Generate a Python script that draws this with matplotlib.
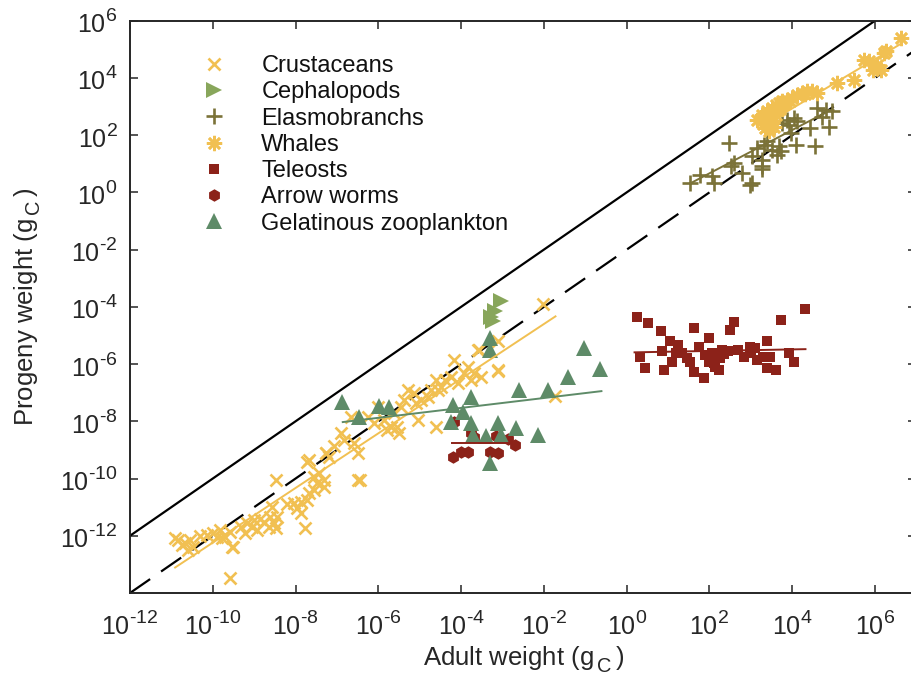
import numpy as np
import matplotlib
matplotlib.use("Agg")
import matplotlib.pyplot as plt
import matplotlib._mathtext as _mt
from matplotlib.ticker import FixedLocator, FuncFormatter, NullLocator

plt.rcParams['font.family'] = ['Liberation Sans', 'DejaVu Sans']
plt.rcParams['mathtext.fontset'] = 'custom'
plt.rcParams['mathtext.rm'] = 'Liberation Sans'
plt.rcParams['mathtext.it'] = 'Liberation Sans:italic'
plt.rcParams['mathtext.bf'] = 'Liberation Sans:bold'
plt.rcParams['axes.unicode_minus'] = False
# larger, higher superscripts / lower subscripts (MATLAB-like)
_mt.SHRINK_FACTOR = 0.78
_mt.FontConstantsBase.sup1 = 0.85
_mt.FontConstantsBase.sub1 = 0.5
_mt.FontConstantsBase.sub2 = 0.6

# ---------------- data (log10 of weights in gC) ----------------
crust_logx = [-10.91, -10.83, -10.75, -10.67, -10.59, -10.55, -10.47, -10.14, -9.82, -9.78,
              -9.70, -9.58, -9.53, -9.33, -9.21, -9.17, -9.05, -9.01, -8.93, -8.77,
              -8.65, -8.61, -8.53, -8.48, -8.44, -8.56, -8.48, -8.04, -7.96, -7.88,
              -7.88, -7.76, -7.72, -7.68, -7.56, -7.47, -7.56, -7.44, -7.31, -7.31,
              -7.72, -7.27, -7.19, -9.58, -9.50, -7.68, -7.27, -7.07, -6.91, -6.83,
              -6.50, -6.59, -6.67, -6.26, -6.10, -5.86, -5.78, -5.70, -5.50, -5.62,
              -5.45, -5.37, -5.29, -5.13, -5.09, -5.05, -4.97, -4.81, -4.73, -4.61,
              -4.57, -4.61, -4.48, -4.40, -4.24, -4.16, -4.08, -3.92, -3.84, -3.76,
              -3.68, -3.60, -3.52, -3.11, -6.02, -5.54, -2.02, -3.11, -1.74, -3.56,
              -3.11, -6.50, -6.45, -10.30, -10.00, -9.90, -8.85, -8.20]
crust_logy = [-12.09, -12.15, -12.32, -12.26, -12.50, -12.15, -12.38, -11.97, -11.80, -12.09,
              -12.03, -11.86, -12.38, -11.68, -11.91, -11.56, -11.68, -11.45, -11.80, -11.51,
              -11.68, -11.33, -11.56, -11.74, -11.33, -10.98, -10.05, -10.86, -11.04, -10.81,
              -11.21, -11.74, -10.75, -10.51, -10.40, -10.16, -9.93, -9.81, -10.05, -10.28,
              -9.41, -9.12, -9.23, -13.49, -12.38, -9.35, -9.12, -8.88, -8.42, -8.65,
              -9.12, -8.77, -7.84, -7.84, -8.07, -7.95, -8.30, -8.19, -8.42, -7.72,
              -7.49, -7.25, -6.90, -7.02, -7.37, -7.95, -7.25, -7.14, -6.90, -6.55,
              -6.90, -8.19, -6.79, -6.55, -6.44, -5.85, -6.67, -6.32, -6.09, -6.55,
              -6.32, -5.50, -6.44, -6.20, -7.49, -8.19, -3.90, -6.23, -7.13, -5.50,
              -5.21, -10.05, -10.05, -12.00, -11.90, -12.05, -11.40, -10.90]

ceph_logx = [-3.03, -3.19, -3.27, -3.23]
ceph_logy = [-3.81, -4.16, -4.34, -4.51]

elasmo_logx = [1.53, 1.78, 2.06, 2.10, 2.47, 2.51, 2.59, 2.79, 2.99, 3.03,
               3.15, 3.27, 3.31, 3.27, 3.39, 3.52, 3.64, 3.72, 3.76, 3.88,
               3.92, 4.04, 4.08, 4.12, 4.44, 4.56, 4.61, 4.81, 4.89, 4.97,
               4.73, 3.96, 3.68, 3.27, 3.03]
elasmo_logy = [0.32, 0.62, 0.56, 0.32, 1.72, 0.91, 1.02, 0.67, 0.27, 1.26,
               1.55, 0.91, 1.66, 1.14, 1.78, 1.49, 1.31, 1.43, 2.42, 2.54,
               2.36, 2.60, 1.66, 2.48, 2.25, 1.61, 2.95, 2.89, 2.30, 2.83,
               2.65, 2.07, 1.61, 0.80, 0.32]

whale_logx = [3.15, 3.27, 3.39, 3.43, 3.52, 3.60, 3.68, 3.76, 3.88, 4.00,
              4.12, 4.24, 4.36, 4.48, 4.61, 5.09, 5.49, 5.73, 5.86, 6.06,
              6.14, 6.22, 6.26, 6.63, 3.35, 3.45, 3.55, 3.50, 3.60, 3.70,
              3.30, 3.80, 3.95, 4.30, 5.96]
whale_logy = [2.54, 2.71, 2.83, 2.42, 2.95, 3.06, 3.12, 3.18, 3.24, 3.30,
              3.41, 3.47, 3.53, 3.53, 3.49, 3.82, 3.94, 4.64, 4.58, 4.46,
              4.29, 4.87, 4.93, 5.39, 2.25, 2.15, 2.30, 2.50, 2.70, 2.90,
              2.40, 3.10, 3.20, 3.45, 4.28]

tele_logx = [0.24, 0.51, 0.83, 1.62, 2.59, 2.50, 3.74, 4.32, 1.05, 1.25,
             0.85, 0.32, 0.44, 0.89, 1.09, 1.33, 1.53, 1.62, 1.86, 1.74,
             1.98, 2.06, 1.98, 2.14, 2.26, 2.30, 2.46, 2.22, 2.83, 2.99,
             3.11, 3.15, 3.39, 3.47, 3.60, 3.39, 3.92, 4.04, 1.20, 1.45,
             1.90, 2.10, 2.35, 2.70, 3.00, 3.30]
tele_logy = [-4.36, -4.55, -4.83, -4.75, -4.53, -4.80, -4.45, -4.08, -5.18, -5.33,
             -5.56, -5.74, -6.14, -6.20, -5.91, -5.62, -5.91, -6.26, -6.49, -5.39,
             -5.09, -5.62, -5.91, -6.09, -5.79, -5.50, -5.56, -6.20, -5.74, -5.39,
             -5.44, -5.85, -5.21, -5.74, -6.20, -6.14, -5.62, -5.91, -5.60, -5.80,
             -5.70, -5.95, -5.65, -5.50, -5.60, -5.75]

arrow_logx = [-4.16, -3.76, -3.15, -2.87, -2.71, -4.20, -4.00, -3.84, -3.31, -3.11, -3.70]
arrow_logy = [-8.01, -8.42, -8.53, -8.63, -8.83, -9.23, -9.06, -9.06, -9.06, -9.12, -8.55]

gel_logx = [-6.87, -6.46, -5.98, -5.74, -4.20, -3.76, -3.96, -4.24, -3.76, -3.31,
            -3.31, -3.11, -2.67, -3.39, -3.03, -3.72, -3.31, -2.59, -1.90, -1.42,
            -1.03, -0.65, -2.14]
gel_logy = [-7.31, -7.86, -7.46, -7.49, -7.43, -7.14, -7.66, -8.04, -8.07, -5.09,
            -5.50, -8.07, -8.24, -8.53, -8.48, -8.48, -9.44, -6.90, -6.90, -6.44,
            -5.44, -6.18, -8.48]

# fitted power laws: log10(y) = slope*log10(x) + intercept over [xmin, xmax]
fit_names = ['crust', 'gel', 'arrow', 'tele', 'elasmo', 'whale']
fit_slope = [0.955, 0.173, 0.0, 0.027, 0.757, 0.86]
fit_intercept = [-2.69, -6.84, -8.77, -5.595, -0.848, -0.505]
fit_xmin = [-10.91, -6.86, -4.22, 0.19, 1.53, 3.30]
fit_xmax = [-1.72, -0.61, -2.86, 4.32, 4.90, 6.60]

# reference lines: progeny = factor * adult
ref_factor = [1.0, 0.01]
ref_logx = [-12, 7]

# tick exponents
xtick_exp = [-12, -10, -8, -6, -4, -2, 0, 2, 4, 6]
ytick_exp = [-12, -10, -8, -6, -4, -2, 0, 2, 4, 6]

labels = ['Crustaceans', 'Cephalopods', 'Elasmobranchs', 'Whales', 'Teleosts',
          'Arrow worms', 'Gelatinous zooplankton']

# ---------------- styles ----------------
c_yellow = '#F1C052'
c_ceph = '#88A65B'
c_elasmo = '#7B7238'
c_red = '#8C2219'
c_gel = '#5E8B68'
c_axis = '#262626'
fit_colors = [c_yellow, c_gel, c_red, c_red, c_elasmo, c_yellow]

fig = plt.figure(figsize=(9.11, 6.81), dpi=100)
ax = fig.add_axes([130 / 911, 88 / 681, 786.4 / 911, 572.3 / 681])

p = lambda a: 10.0 ** np.asarray(a, dtype=float)

xr = p(ref_logx)
ax.plot(xr, ref_factor[0] * xr, color='black', lw=1.6, zorder=2)
ax.plot(xr, ref_factor[1] * xr, color='black', lw=1.6, dashes=(11, 6), zorder=2)

star8 = (8, 2, 0)
h1, = ax.plot(p(crust_logx), p(crust_logy), 'x', color=c_yellow, ms=8, mew=1.9, zorder=3)
h2, = ax.plot(p(ceph_logx), p(ceph_logy), '>', color=c_ceph, ms=11, mew=0, zorder=3)
h3, = ax.plot(p(elasmo_logx), p(elasmo_logy), '+', color=c_elasmo, ms=11, mew=1.9, zorder=3)
h4, = ax.plot(p(whale_logx), p(whale_logy), marker=star8, ls='none', color=c_yellow,
              ms=11, mew=1.9, zorder=3)
h5, = ax.plot(p(tele_logx), p(tele_logy), 's', color=c_red, ms=7, mew=0, zorder=3)
h6, = ax.plot(p(arrow_logx), p(arrow_logy), 'h', color=c_red, ms=9, mew=0, zorder=3)
h7, = ax.plot(p(gel_logx), p(gel_logy), '^', color=c_gel, ms=11, mew=0, zorder=3)

for s, b, x0, x1, c in zip(fit_slope, fit_intercept, fit_xmin, fit_xmax, fit_colors):
    lx = np.array([x0, x1])
    ax.plot(p(lx), p(s * lx + b), color=c, lw=1.4, zorder=4)

ax.set_xscale('log')
ax.set_yscale('log')
ax.set_xlim(1e-12, 1e7)
ax.set_ylim(1e-14, 1e6)


def fmt(v, pos):
    e = int(round(np.log10(v)))
    es = ('\\text{-}%d' % -e) if e < 0 else '%d' % e
    return '$\\mathregular{10^{%s}}$' % es


ax.xaxis.set_major_locator(FixedLocator(p(xtick_exp)))
ax.yaxis.set_major_locator(FixedLocator(p(ytick_exp)))
ax.xaxis.set_major_formatter(FuncFormatter(fmt))
ax.yaxis.set_major_formatter(FuncFormatter(fmt))
ax.xaxis.set_minor_locator(NullLocator())
ax.yaxis.set_minor_locator(NullLocator())
ax.tick_params(axis='both', direction='in', top=True, right=True, length=5.5,
               width=1.1, labelsize=18, color=c_axis, labelcolor=c_axis)
ax.tick_params(axis='x', pad=12.5)
ax.tick_params(axis='y', pad=9)
for sp in ax.spines.values():
    sp.set_linewidth(1.4)
    sp.set_color(c_axis)

ax.set_xlabel('Adult weight (g$_{\\mathregular{\\,C}}\\,$)', fontsize=18.5,
              color=c_axis, labelpad=3)
ax.set_ylabel('Progeny weight (g$_{\\mathregular{\\,C}}\\,$)', fontsize=18.5,
              color=c_axis, labelpad=13)

leg = ax.legend([h1, h2, h3, h4, h5, h6, h7], labels, loc='upper left',
                bbox_to_anchor=(0.092, 0.94), frameon=False, fontsize=17,
                handlelength=1.0, handletextpad=1.5, labelspacing=0.18,
                borderpad=0, borderaxespad=0, numpoints=1)
for t in leg.get_texts():
    t.set_color('#111111')

fig.savefig('out.png', dpi=100)
